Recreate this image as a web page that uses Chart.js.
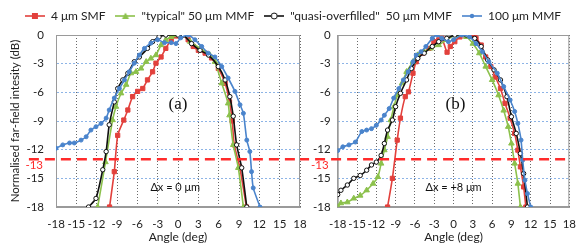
<!DOCTYPE html>
<html lang="en">
<head>
<meta charset="UTF-8" />
<title>Far-field profiles</title>
<script src="https://cdn.jsdelivr.net/npm/chart.js@4.4.0/dist/chart.umd.min.js"></script>
<style>
  body { margin: 0; background: #fff; }
  #wrap { position: relative; width: 586px; height: 248px; overflow: hidden; }
  #wrap canvas { position: absolute; top: 0; }
  #chartA { left: 0; }
  #chartB { left: 300px; }
</style>
<script>
// ticks
const xTicks = [-18, -15, -12, -9, -6, -3, 0, 3, 6, 9, 12, 15, 18];
const yTicks = [0, -3, -6, -9, -12, -15, -18];
const threshold = -13;

const seriesNames = ['4 μm SMF', '"typical" 50 μm MMF', '"quasi-overfilled"  50 μm MMF', '100 μm MMF'];

// panel (a), dx = 0 um : [angle deg, dB]
const smfA = [[-10.1,-18],[-9.4,-14.3],[-8.9,-10.5],[-8.0,-8.9],[-7.4,-7.85],[-6.7,-6.45],[-5.95,-5.9],[-5.2,-5.6],[-4.5,-4.7],[-3.75,-3.85],[-3.25,-2.95],[-2.5,-2.3],[-1.8,-1.4],[-1.0,-0.5],[-0.3,-0.1],[0.55,0],[1.5,-0.5],[2.25,-1.2],[3.0,-1.6],[4.0,-1.9],[4.95,-2.4],[5.95,-3.5],[6.95,-5.05],[7.6,-7.0],[8.0,-9.0],[8.3,-11.5],[9.1,-13.8],[10.1,-18]];
const typA = [[-11.85,-18],[-10.7,-13.3],[-9.65,-8.9],[-9.15,-7.5],[-8.4,-6.1],[-7.65,-5.2],[-6.95,-4.0],[-6.2,-3.85],[-5.45,-3.5],[-4.7,-2.8],[-4.0,-2.45],[-3.25,-2.1],[-2.5,-1.05],[-1.8,-0.5],[-1.0,-0.2],[-0.3,0],[0.8,0],[1.8,-0.7],[3.25,-1.4],[4.7,-2.1],[5.45,-2.8],[6.45,-5.05],[7.4,-7.15],[7.6,-8.4],[8.15,-11.5],[8.9,-13.9],[9.65,-18]];
const quasiA = [[-13.2,-18],[-12.1,-17.1],[-11.1,-14.1],[-10.6,-12.2],[-10.15,-9.4],[-9.4,-7.0],[-8.9,-5.6],[-8.15,-4.7],[-7.4,-4.0],[-6.45,-2.8],[-5.7,-2.3],[-4.5,-1.4],[-3.75,-0.7],[-2.8,-0.2],[-1.8,0],[0,0],[0.8,0],[2.0,-0.9],[3.25,-1.6],[4.5,-2.1],[5.95,-3.3],[6.95,-4.7],[7.65,-6.45],[8.15,-8.5],[8.65,-11.5],[9.4,-13.9],[10.15,-18]];
const mmf100A = [[-18,-11.85],[-17.0,-11.5],[-16.0,-11.3],[-15.3,-11.3],[-14.3,-11.0],[-13.55,-10.65],[-12.85,-9.95],[-12.1,-9.6],[-11.35,-9.25],[-10.6,-8.7],[-10.15,-7.85],[-9.4,-6.6],[-8.65,-5.6],[-7.9,-4.7],[-7.2,-3.85],[-6.45,-2.95],[-5.7,-2.1],[-4.95,-1.4],[-4.0,-0.85],[-3.0,-0.5],[-2.0,-0.8],[-1.0,-0.8],[-0.3,-0.9],[0.4,-0.3],[1.5,0],[2.5,-0.5],[3.5,-1.2],[4.45,-1.9],[5.45,-2.3],[6.45,-3.3],[7.4,-4.5],[8.4,-5.9],[9.15,-7.3],[9.65,-8.2],[10.15,-11.0],[10.6,-12.2],[10.85,-14.3],[11.1,-16.0],[12.1,-18]];

// panel (b), dx = +8 um
const smfB = [[-10.25,-18],[-9.5,-15.0],[-8.75,-11.0],[-8.25,-8.7],[-7.5,-6.45],[-7.0,-5.95],[-6.3,-4.0],[-5.8,-2.8],[-4.8,-1.9],[-3.8,-1.4],[-3.05,-0.7],[-2.3,-0.5],[-1.8,-0.35],[-1.0,-1.8],[-0.5,-1.2],[0.2,-0.7],[1.0,-0.2],[1.8,0],[2.6,-0.1],[3.3,0],[3.5,-0.35],[4.3,-1.05],[5.0,-2.3],[5.8,-3.3],[6.5,-4.4],[7.3,-5.6],[8.0,-7.15],[8.8,-8.7],[9.5,-10.3],[10.0,-12.05],[10.4,-13.8],[10.9,-15.9],[11.25,-18]];
const typB = [[-18,-18],[-17.5,-17.6],[-16.5,-17.5],[-15.5,-17.1],[-14.5,-16.8],[-13.5,-16.25],[-12.5,-15.55],[-11.75,-14.85],[-11.25,-13.45],[-10.75,-12.05],[-10.25,-10.65],[-9.75,-8.9],[-9.25,-7.5],[-8.75,-6.3],[-8.0,-5.05],[-7.3,-3.85],[-6.3,-2.8],[-5.55,-2.1],[-4.55,-1.75],[-3.55,-1.4],[-2.3,-1.05],[-1.05,-0.5],[0.2,0],[0.6,0],[2.0,-0.2],[3.0,-0.9],[4.0,-1.9],[5.0,-3.3],[6.0,-4.7],[7.0,-6.3],[7.8,-7.9],[8.5,-9.6],[9.0,-11.35],[9.5,-13.45],[10.0,-15.55],[10.4,-18]];
const quasiB = [[-18,-16.7],[-17.5,-16.25],[-16.5,-15.7],[-15.5,-15.0],[-14.5,-14.7],[-13.5,-14.15],[-12.75,-13.6],[-12.0,-13.3],[-11.25,-12.6],[-10.75,-11.35],[-10.25,-9.95],[-9.5,-8.9],[-9.0,-7.5],[-8.25,-6.1],[-7.3,-4.7],[-6.55,-3.5],[-5.55,-2.45],[-4.55,-1.9],[-3.3,-1.2],[-2.3,-0.7],[-1.05,-0.35],[0.2,0],[2.0,0],[3.3,-0.35],[4.3,-1.2],[5.3,-2.6],[6.3,-3.65],[7.3,-4.7],[8.3,-6.45],[9.0,-8.55],[9.75,-10.3],[10.4,-12.4],[10.9,-14.5],[11.5,-18]];
const mmf100B = [[-18,-12.1],[-17.2,-11.7],[-16.25,-11.5],[-15.25,-11.2],[-14.25,-10.1],[-13.5,-9.95],[-12.75,-9.8],[-12.0,-9.45],[-11.25,-8.9],[-10.75,-8.4],[-10.0,-7.7],[-9.3,-6.6],[-8.5,-5.6],[-7.8,-4.7],[-7.05,-3.85],[-6.3,-2.8],[-5.8,-2.1],[-5.05,-1.75],[-4.3,-1.2],[-3.3,-0.35],[-2.55,0],[-1.8,-0.35],[-0.8,-0.7],[0,-0.5],[1.3,0],[2.5,-0.2],[3.5,-0.9],[4.5,-1.75],[5.5,-2.8],[6.8,-4.0],[7.8,-5.4],[8.8,-6.8],[9.5,-8.0],[10.0,-9.25],[10.5,-11.0],[10.75,-13.1],[11.1,-15.2],[11.5,-16.6],[12.0,-18]];

const colors = ['#e2403c', '#8cc14c', '#111111', '#4a84cc'];
const markers = ['rect', 'triangle', 'circle', 'circle'];
const markerSize = [3, 3.2, 2.2, 2];
const markerFill = ['#e2403c', '#8cc14c', '#ffffff', '#4a84cc'];
const drawOrder = [3, 2, 1, 0];

Chart.defaults.font.family = 'Lato, "Open Sans", sans-serif';
Chart.defaults.font.size = 11;
Chart.defaults.color = '#222';

function toPoints(arr) {
  return arr.map(p => ({ x: p[0], y: p[1] }));
}

function makeDatasets(series, lineFrom) {
  const sets = series.map((s, i) => ({
    label: seriesNames[i],
    data: toPoints(s),
    borderColor: colors[i],
    backgroundColor: markerFill[i],
    borderWidth: 1.6,
    pointStyle: markers[i],
    pointRadius: markerSize[i],
    pointBorderWidth: 1,
    pointBorderColor: colors[i],
    pointBackgroundColor: markerFill[i],
    tension: 0.2,
    order: drawOrder[i]
  }));
  sets.push({
    label: 'threshold',
    data: [{ x: lineFrom, y: threshold }, { x: 18, y: threshold }],
    borderColor: '#ff2b2b',
    borderWidth: 2.6,
    borderDash: [10, 6],
    pointRadius: 0,
    clip: false,
    order: -1
  });
  return sets;
}

// small line+marker picture for the legend
function legendIcon(i) {
  const c = document.createElement('canvas');
  c.width = 20; c.height = 10;
  const g = c.getContext('2d');
  g.strokeStyle = colors[i];
  g.lineWidth = 1.6;
  g.beginPath(); g.moveTo(0, 5); g.lineTo(20, 5); g.stroke();
  g.fillStyle = markerFill[i];
  g.lineWidth = 1;
  g.beginPath();
  if (markers[i] === 'rect') {
    g.rect(7, 2, 6, 6); g.fill();
  } else if (markers[i] === 'triangle') {
    g.moveTo(10, 1.5); g.lineTo(13.5, 8); g.lineTo(6.5, 8); g.closePath(); g.fill();
  } else if (i === 2) {
    g.arc(10, 5, 3, 0, Math.PI * 2); g.fill(); g.stroke();
  } else {
    g.arc(10, 5, 2.2, 0, Math.PI * 2); g.fill();
  }
  return c;
}

const legendHeight = {
  id: 'legendHeight',
  beforeInit(chart) {
    if (!chart.legend) return;
    const fit = chart.legend.fit;
    chart.legend.fit = function () { fit.call(this); this.height = 35; };
  }
};

const panelDecor = {
  id: 'panelDecor',
  beforeDatasetsDraw(chart) {
    const a = chart.chartArea, ctx = chart.ctx;
    ctx.save();
    ctx.strokeStyle = '#9a9a9a';
    ctx.lineWidth = 1;
    ctx.strokeRect(a.left + 0.5, a.top + 0.5, a.right - a.left - 1, a.bottom - a.top - 1);
    ctx.restore();
  },
  afterDatasetsDraw(chart, args, opts) {
    const xs = chart.scales.x, ys = chart.scales.y, ctx = chart.ctx;
    ctx.save();
    ctx.textAlign = 'center';
    ctx.textBaseline = 'middle';
    ctx.fillStyle = '#111';
    ctx.font = '17px "Liberation Serif", "DejaVu Serif", serif';
    ctx.fillText(opts.tag, xs.getPixelForValue(opts.tagAt[0]), ys.getPixelForValue(opts.tagAt[1]));
    ctx.font = '11px Lato, "Open Sans", sans-serif';
    ctx.fillText(opts.note, xs.getPixelForValue(opts.noteAt[0]), ys.getPixelForValue(opts.noteAt[1]));
    // red threshold label, tucked under the dashed line beside the y ticks
    ctx.fillStyle = '#ff2b2b';
    ctx.textAlign = 'right';
    ctx.font = '11.5px Lato, "Open Sans", sans-serif';
    ctx.fillText(String(threshold), ys.right - opts.labelGap, ys.getPixelForValue(threshold) + 6);
    ctx.restore();
  }
};

function xScale() {
  return {
    type: 'linear', min: -18, max: 18,
    afterBuildTicks: s => { s.ticks = xTicks.map(v => ({ value: v })); },
    afterFit: s => { s.height = 41; },
    ticks: { autoSkip: false, maxRotation: 0, padding: 10, font: { size: 11.5 } },
    grid: { color: '#6a6a6a', drawTicks: false },
    border: { color: '#9a9a9a', dash: [1, 2] },
    title: { display: true, text: 'Angle (deg)', font: { size: 12 }, padding: { top: 0, bottom: 4 } }
  };
}

function yScale(width, gap, withTitle) {
  return {
    type: 'linear', min: -18, max: 0,
    afterBuildTicks: s => { s.ticks = yTicks.map(v => ({ value: v })); },
    afterFit: s => { s.width = width; },
    ticks: { padding: gap, font: { size: 11.5 } },
    grid: { color: '#8db4e6', drawTicks: false },
    border: { color: '#9a9a9a', dash: [2, 2] },
    title: { display: withTitle, text: 'Normalised far-field intesity (dB)', font: { size: 11.5 }, padding: { top: 8, bottom: 4 } }
  };
}

window.addEventListener('load', function () {
  new Chart(document.getElementById('chartA'), {
    type: 'line',
    data: { datasets: makeDatasets([smfA, typA, quasiA, mmf100A], -22) },
    options: {
      responsive: false,
      animation: false,
      layout: { padding: 0 },
      scales: {
        x: xScale(),
        y: yScale(56, 12, true),
        pad: {
          type: 'linear', position: 'right', display: true,
          ticks: { display: false }, grid: { display: false }, border: { display: false },
          afterFit: s => { s.width = 286; }
        }
      },
      plugins: {
        tooltip: { enabled: false },
        legend: {
          display: true,
          position: 'top',
          labels: {
            usePointStyle: true,
            pointStyleWidth: 20,
            padding: 10,
            font: { size: 12 },
            color: '#222',
            generateLabels: chart => chart.data.datasets.slice(0, 4).map((d, i) => ({
              text: d.label, pointStyle: legendIcon(i), datasetIndex: i,
              hidden: false, lineWidth: 0, fontColor: '#222'
            }))
          }
        },
        panelDecor: { tag: '(a)', tagAt: [0, -7.3], note: 'Δx = 0 μm', noteAt: [-0.4, -16], labelGap: 13 }
      }
    },
    plugins: [legendHeight, panelDecor]
  });

  new Chart(document.getElementById('chartB'), {
    type: 'line',
    data: { datasets: makeDatasets([smfB, typB, quasiB, mmf100B], -24) },
    options: {
      responsive: false,
      animation: false,
      layout: { padding: { top: 35, right: 7.5, left: 0, bottom: 0 } },
      scales: {
        x: xScale(),
        y: yScale(37.7, 7, false)
      },
      plugins: {
        tooltip: { enabled: false },
        legend: { display: false },
        panelDecor: { tag: '(b)', tagAt: [0.3, -7.3], note: 'Δx = +8 μm', noteAt: [0, -16], labelGap: 9 }
      }
    },
    plugins: [panelDecor]
  });
});
</script>
</head>
<body>
  <div id="wrap">
    <canvas id="chartA" width="586" height="248"></canvas>
    <canvas id="chartB" width="286" height="248"></canvas>
  </div>
</body>
</html>
